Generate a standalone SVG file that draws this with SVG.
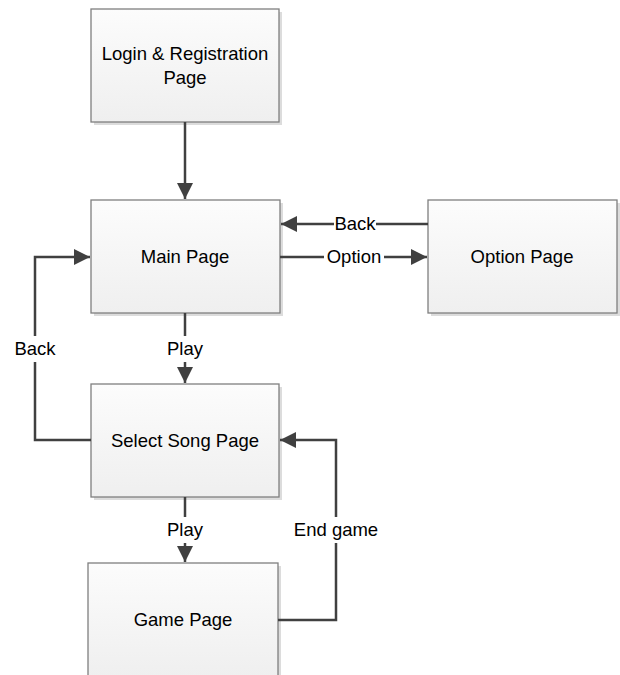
<svg xmlns="http://www.w3.org/2000/svg" width="620" height="675" viewBox="0 0 620 675">
<style>
.box{fill:url(#g);stroke:#7f7f7f;stroke-width:1.3}
.sh{fill:#dcdcdc}
.t{font-family:"Liberation Sans",Arial,sans-serif;font-size:18.5px;fill:#000;text-anchor:middle}
.c{fill:none;stroke:#404040;stroke-width:2.5}
.lb{fill:#fff}
</style>
<defs>
<linearGradient id="g" x1="0" y1="0" x2="0" y2="1">
<stop offset="0" stop-color="#fcfcfc"/>
<stop offset="1" stop-color="#efefef"/>
</linearGradient>
<marker id="a" viewBox="0 0 10 10" refX="10" refY="5" markerWidth="6.4" markerHeight="6.4" markerUnits="strokeWidth" orient="auto">
<path d="M0,0 L10,5 L0,10 z" fill="#404040"/>
</marker>
</defs>
<g id="login">
<rect class="sh" x="94" y="12" width="188" height="113"/>
<rect class="box" x="91" y="9" width="188" height="113"/>
<text class="t" x="185" y="60">Login &amp; Registration</text>
<text class="t" x="185" y="84">Page</text>
</g>
<g id="main">
<rect class="sh" x="94" y="203" width="189" height="113"/>
<rect class="box" x="91" y="200" width="189" height="113"/>
<text class="t" x="185" y="263">Main Page</text>
</g>
<g id="option">
<rect class="sh" x="431" y="203" width="189" height="113"/>
<rect class="box" x="428" y="200" width="189" height="113"/>
<text class="t" x="522" y="263">Option Page</text>
</g>
<g id="select">
<rect class="sh" x="94" y="387" width="188" height="113"/>
<rect class="box" x="91" y="384" width="188" height="113"/>
<text class="t" x="185" y="447">Select Song Page</text>
</g>
<g id="game">
<rect class="sh" x="91" y="566" width="190" height="113"/>
<rect class="box" x="88" y="563" width="190" height="113"/>
<text class="t" x="183" y="626">Game Page</text>
</g>
<g id="connectors">
<path class="c" d="M185,122 V199" marker-end="url(#a)"/>
<path class="c" d="M428,224 H281" marker-end="url(#a)"/>
<rect class="lb" x="334" y="214" width="42" height="20"/>
<text class="t" x="355" y="230">Back</text>
<path class="c" d="M280,257 H427" marker-end="url(#a)"/>
<rect class="lb" x="324" y="247" width="60" height="20"/>
<text class="t" x="354" y="263">Option</text>
<path class="c" d="M185,313 V383" marker-end="url(#a)"/>
<rect class="lb" x="166" y="336" width="38" height="26"/>
<text class="t" x="185" y="355">Play</text>
<path class="c" d="M91,440 H35 V257 H90" marker-end="url(#a)"/>
<rect class="lb" x="12" y="336" width="46" height="26"/>
<text class="t" x="35" y="355">Back</text>
<path class="c" d="M185,497 V562" marker-end="url(#a)"/>
<rect class="lb" x="166" y="517" width="38" height="26"/>
<text class="t" x="185" y="536">Play</text>
<path class="c" d="M278,620 H336 V440 H280" marker-end="url(#a)"/>
<rect class="lb" x="290" y="517" width="92" height="26"/>
<text class="t" x="336" y="536">End game</text>
</g>
</svg>
